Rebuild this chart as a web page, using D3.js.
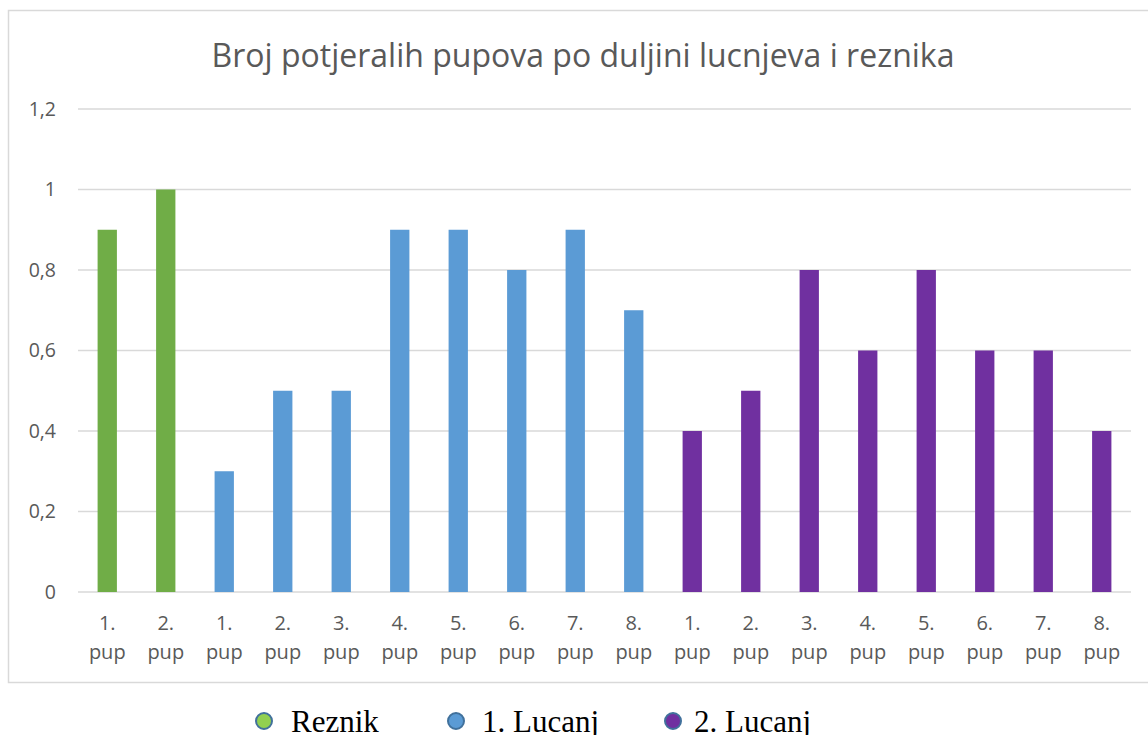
<!DOCTYPE html>
<html>
<head>
<meta charset="utf-8">
<script src="https://cdn.jsdelivr.net/npm/d3@7"></script>
<style>
  body { margin: 0; background: #fff; }
  svg { display: block; }
</style>
</head>
<body>
<svg></svg>
<script>
const width = 1148;
const height = 735;

const title = 'Broj potjeralih pupova po duljini lucnjeva i reznika';
const seriesNames = ['Reznik', '1. Lucanj', '2. Lucanj'];
const seriesColors = ['#70AD47', '#5B9BD5', '#7030A0'];
const markerColors = ['#92D050', '#5B9BD5', '#7030A0'];
const reznikLabels = ['1. pup', '2. pup'];
const reznikValues = [0.9, 1.0];
const lucanj1Labels = ['1. pup', '2. pup', '3. pup', '4. pup', '5. pup', '6. pup', '7. pup', '8. pup'];
const lucanj1Values = [0.3, 0.5, 0.5, 0.9, 0.9, 0.8, 0.9, 0.7];
const lucanj2Labels = ['1. pup', '2. pup', '3. pup', '4. pup', '5. pup', '6. pup', '7. pup', '8. pup'];
const lucanj2Values = [0.4, 0.5, 0.8, 0.6, 0.8, 0.6, 0.6, 0.4];
const yTicks = [0, 0.2, 0.4, 0.6, 0.8, 1, 1.2];

// flatten into one row per bar
const rows = [];
[[reznikLabels, reznikValues], [lucanj1Labels, lucanj1Values], [lucanj2Labels, lucanj2Values]]
  .forEach(([labels, values], s) => {
    labels.forEach((label, i) => rows.push({ key: s + '-' + i, label, value: values[i], series: s }));
  });

const margin = { left: 78, right: 17, top: 109, bottom: 143 };
const font = 'Open Sans, Noto Sans, sans-serif';

const svg = d3.select('svg')
  .attr('width', width)
  .attr('height', height);

// chart frame (runs off the right edge)
svg.append('rect')
  .attr('x', 8.5)
  .attr('y', 10.5)
  .attr('width', 1160)
  .attr('height', 672)
  .attr('fill', 'none')
  .attr('stroke', '#d9d9d9')
  .attr('stroke-width', 1.5);

svg.append('text')
  .attr('x', 583)
  .attr('y', 67)
  .attr('text-anchor', 'middle')
  .style('font-family', font)
  .style('font-size', '32px')
  .style('fill', '#595959')
  .text(title);

const x = d3.scaleBand()
  .domain(rows.map(d => d.key))
  .range([margin.left, width - margin.right])
  .paddingInner(0.67)
  .paddingOuter(0.335);

const y = d3.scaleLinear()
  .domain([0, 1.2])
  .range([height - margin.bottom, margin.top]);

svg.append('g')
  .selectAll('line')
  .data(yTicks)
  .join('line')
  .attr('x1', margin.left)
  .attr('x2', width - margin.right)
  .attr('y1', d => y(d))
  .attr('y2', d => y(d))
  .attr('stroke', '#d9d9d9')
  .attr('stroke-width', 1.5);

const yAxis = d3.axisLeft(y)
  .tickValues(yTicks)
  .tickSize(0)
  .tickPadding(22)
  .tickFormat(d => String(d).replace('.', ','));

svg.append('g')
  .attr('transform', `translate(${margin.left},0)`)
  .call(yAxis)
  .call(g => g.select('.domain').remove())
  .selectAll('text')
  .style('font-family', font)
  .style('font-size', '19.5px')
  .style('fill', '#595959');

svg.append('g')
  .selectAll('rect')
  .data(rows)
  .join('rect')
  .attr('x', d => x(d.key))
  .attr('width', x.bandwidth())
  .attr('y', d => y(d.value))
  .attr('height', d => y(0) - y(d.value))
  .attr('fill', d => seriesColors[d.series]);

// category labels on two lines
const xLabels = svg.append('g')
  .selectAll('text')
  .data(rows)
  .join('text')
  .attr('x', d => x(d.key) + x.bandwidth() / 2)
  .attr('y', 630)
  .attr('text-anchor', 'middle')
  .style('font-family', font)
  .style('font-size', '20px')
  .style('fill', '#595959');

xLabels.selectAll('tspan')
  .data(d => d.label.split(' ').map(t => ({ t, cx: x(d.key) + x.bandwidth() / 2 })))
  .join('tspan')
  .attr('x', d => d.cx)
  .attr('dy', (d, i) => i === 0 ? 0 : 29)
  .text(d => d.t);

// legend
const legendX = [264, 456, 673];
const legendTextX = [291, 482, 694];
const legend = svg.append('g')
  .selectAll('g')
  .data(seriesNames)
  .join('g');

legend.append('circle')
  .attr('cx', (d, i) => legendX[i])
  .attr('cy', 721)
  .attr('r', 8)
  .attr('fill', (d, i) => markerColors[i])
  .attr('stroke', '#41719C')
  .attr('stroke-width', 2);

legend.append('text')
  .attr('x', (d, i) => legendTextX[i])
  .attr('y', 732)
  .style('font-family', 'Liberation Serif, Times New Roman, serif')
  .style('font-size', '31px')
  .style('fill', '#000')
  .text(d => d);
</script>
</body>
</html>
